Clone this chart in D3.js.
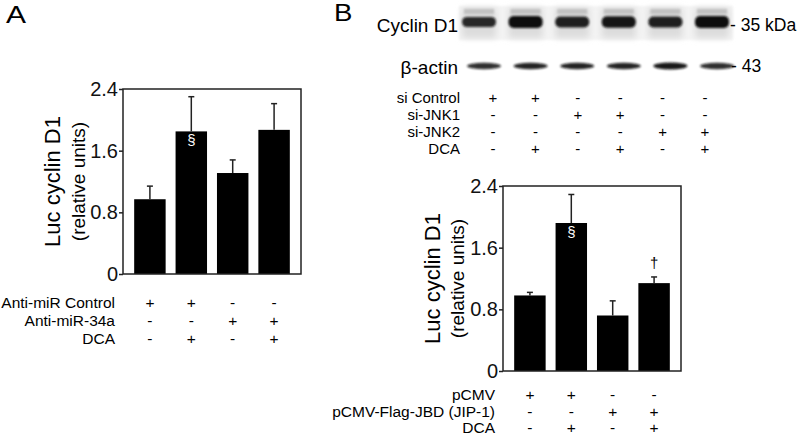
<!DOCTYPE html>
<html>
<head>
<meta charset="utf-8">
<script src="https://cdn.jsdelivr.net/npm/d3@7"></script>
<style>
  body { margin: 0; background: #fff; }
  svg { font-family: "Liberation Sans", Arial, sans-serif; display: block; }
</style>
</head>
<body>
<svg id="fig" width="800" height="436"></svg>
<script>
// bar values
var groups = ["1", "2", "3", "4"];
var valuesA = [0.97, 1.85, 1.31, 1.87];
var errorsA = [0.17, 0.45, 0.17, 0.34];
var valuesB = [0.98, 1.92, 0.72, 1.14];
var errorsB = [0.04, 0.37, 0.19, 0.08];
var marksA = ["", "§", "", ""];
var marksB = ["", "§", "", "†"];
var yTicks = [0, 0.8, 1.6, 2.4];

// treatment tables
var rowsA = ["Anti-miR Control", "Anti-miR-34a", "DCA"];
var signsA = ["++--", "--++", "-+-+"];
var rowsB = ["pCMV", "pCMV-Flag-JBD (JIP-1)", "DCA"];
var signsB = ["++--", "--++", "-+-+"];
var lanes = ["1", "2", "3", "4", "5", "6"];
var rowsBlot = ["si Control", "si-JNK1", "si-JNK2", "DCA"];
var signsBlot = ["++----", "--++--", "----++", "-+-+-+"];

// band densities (0-1)
var cyclinDensity = [0.7, 1.0, 0.8, 0.9, 0.8, 1.0];
var actinDensity = [0.85, 0.9, 0.9, 0.9, 0.95, 0.85];

var svg = d3.select("#fig");

var defs = svg.append("defs");
defs.append("filter").attr("id", "blur1").attr("x", "-20%").attr("y", "-50%")
    .attr("width", "140%").attr("height", "200%")
  .append("feGaussianBlur").attr("stdDeviation", 1.2);
defs.append("filter").attr("id", "blur3").attr("x", "-20%").attr("y", "-50%")
    .attr("width", "140%").attr("height", "200%")
  .append("feGaussianBlur").attr("stdDeviation", 3);

// panel letters
svg.append("text").attr("x", 6).attr("y", 23).attr("font-size", 24)
    .attr("transform", "translate(6,0) scale(1.25,1) translate(-6,0)").text("A");
svg.append("text").attr("x", 334).attr("y", 21).attr("font-size", 24)
    .attr("transform", "translate(334,0) scale(1.15,1) translate(-334,0)").text("B");

function barPanel(left, top, values, errors, marks, labelX1, labelX2) {
  var w = 178, h = 185;
  var g = svg.append("g");

  var x = d3.scaleBand().domain(groups)
      .range([left, left + w]).paddingInner(0.24).paddingOuter(0.27);
  var y = d3.scaleLinear().domain([0, 2.4]).range([top + h, top]);

  // bars
  g.selectAll(".bar").data(values).enter().append("rect")
      .attr("x", function(d, i) { return x(groups[i]); })
      .attr("y", function(d) { return y(d); })
      .attr("width", x.bandwidth())
      .attr("height", function(d) { return y(0) - y(d); })
      .attr("fill", "#000");

  // error bars, upward only
  var eb = g.selectAll(".err").data(values).enter().append("g");
  eb.append("line")
      .attr("x1", function(d, i) { return x(groups[i]) + x.bandwidth() / 2; })
      .attr("x2", function(d, i) { return x(groups[i]) + x.bandwidth() / 2; })
      .attr("y1", function(d) { return y(d); })
      .attr("y2", function(d, i) { return y(d + errors[i]); })
      .attr("stroke", "#222").attr("stroke-width", 1.5);
  eb.append("line")
      .attr("x1", function(d, i) { return x(groups[i]) + x.bandwidth() / 2 - 3; })
      .attr("x2", function(d, i) { return x(groups[i]) + x.bandwidth() / 2 + 3; })
      .attr("y1", function(d, i) { return y(d + errors[i]); })
      .attr("y2", function(d, i) { return y(d + errors[i]); })
      .attr("stroke", "#222").attr("stroke-width", 1.5);

  // significance marks
  g.selectAll(".mark").data(values).enter().append("text")
      .attr("x", function(d, i) { return x(groups[i]) + x.bandwidth() / 2; })
      .attr("y", function(d, i) {
        return marks[i] === "§" ? y(d) + 14 : y(d + errors[i]) - 9;
      })
      .attr("text-anchor", "middle")
      .attr("font-size", 15)
      .attr("fill", function(d, i) { return marks[i] === "§" ? "#fff" : "#000"; })
      .text(function(d, i) { return marks[i]; });

  // frame
  g.append("rect").attr("x", left).attr("y", top).attr("width", w).attr("height", h)
      .attr("fill", "none").attr("stroke", "#222").attr("stroke-width", 1.5);

  // y axis
  var ax = g.append("g").attr("transform", "translate(" + left + ",0)")
      .call(d3.axisLeft(y).tickValues(yTicks).tickSize(4).tickSizeOuter(0).tickPadding(1)
        .tickFormat(function(d) { return d === 0 ? "0" : d3.format(".1f")(d); }));
  ax.select(".domain").remove();
  ax.selectAll("line").attr("stroke", "#222").attr("stroke-width", 1.5);
  ax.selectAll("text").attr("font-size", 20).attr("fill", "#111")
      .attr("font-family", "Liberation Sans, Arial, sans-serif");

  var cy = top + h / 2;
  g.append("text").attr("transform", "translate(" + labelX1 + "," + cy + ") rotate(-90)")
      .attr("text-anchor", "middle").attr("dy", "0.35em")
      .attr("font-size", 22).text("Luc cyclin D1");
  g.append("text").attr("transform", "translate(" + labelX2 + "," + cy + ") rotate(-90)")
      .attr("text-anchor", "middle").attr("dy", "0.35em")
      .attr("font-size", 19).text("(relative units)");

  return x;
}

function signTable(rows, signs, labelRight, yFirst, rowStep, colX, fs) {
  var g = svg.append("g").attr("font-size", fs);
  rows.forEach(function(r, i) {
    var yy = yFirst + i * rowStep;
    g.append("text").attr("x", labelRight).attr("y", yy).attr("dy", "0.35em")
        .attr("text-anchor", "end").text(r);
    g.selectAll(null).data(signs[i].split("")).enter().append("text")
        .attr("x", function(d, j) { return colX(j); })
        .attr("y", yy).attr("dy", "0.35em")
        .attr("text-anchor", "middle")
        .text(function(d) { return d; });
  });
}

// panel A
var xA = barPanel(123, 89, valuesA, errorsA, marksA, 52, 78);
signTable(rowsA, signsA, 115, 303, 18,
    function(j) { return xA(groups[j]) + xA.bandwidth() / 2; }, 15.5);

// panel B bar chart
var xB = barPanel(503, 186, valuesB, errorsB, marksB, 432, 457);
signTable(rowsB, signsB, 495, 395, 16.5,
    function(j) { return xB(groups[j]) + xB.bandwidth() / 2; }, 15.5);

// panel B blot
var laneX = d3.scalePoint().domain(lanes).range([479, 712]);
var blotCols = d3.scalePoint().domain(lanes).range([493, 705]);
var dens = d3.scaleLinear().domain([0, 1]).range([0, 1]);

var blot = svg.append("g");
blot.append("rect").attr("x", 459).attr("y", 6).attr("width", 274).attr("height", 34)
    .attr("fill", "#f3f3f3").attr("filter", "url(#blur1)");
blot.selectAll(".smear").data(cyclinDensity).enter().append("rect")
    .attr("x", function(d, i) { return laneX(lanes[i]) - 17; })
    .attr("y", 8).attr("width", 34).attr("height", 30)
    .attr("fill", "#dcdcdc").attr("filter", "url(#blur3)");
blot.selectAll(".upper").data(cyclinDensity).enter().append("rect")
    .attr("x", function(d, i) { return laneX(lanes[i]) - 15; })
    .attr("y", 9).attr("width", 30).attr("height", 5)
    .attr("fill", "#c2c2c2").attr("filter", "url(#blur1)");
blot.selectAll(".cyc").data(cyclinDensity).enter().append("rect")
    .attr("x", function(d, i) { return laneX(lanes[i]) - 17; })
    .attr("y", function(d) { return 22 - 3 - 3 * dens(d); })
    .attr("width", 34)
    .attr("height", function(d) { return 6 + 6 * dens(d); })
    .attr("rx", 5)
    .attr("fill", "#111")
    .attr("opacity", function(d) { return 0.55 + 0.45 * dens(d); })
    .attr("filter", "url(#blur1)");
blot.selectAll(".act").data(actinDensity).enter().append("ellipse")
    .attr("cx", function(d, i) { return laneX(lanes[i]) + 5; })
    .attr("cy", 66)
    .attr("rx", 17)
    .attr("ry", function(d) { return 2 + 1.5 * dens(d); })
    .attr("fill", "#111")
    .attr("opacity", function(d) { return dens(d); })
    .attr("filter", "url(#blur1)");

svg.append("text").attr("x", 458).attr("y", 25).attr("dy", "0.35em")
    .attr("text-anchor", "end").attr("font-size", 19).text("Cyclin D1");
svg.append("text").attr("x", 458).attr("y", 67).attr("dy", "0.35em")
    .attr("text-anchor", "end").attr("font-size", 19).text("β-actin");
svg.append("text").attr("x", 730).attr("y", 25).attr("dy", "0.35em")
    .attr("font-size", 17.5).text("- 35 kDa");
svg.append("text").attr("x", 731).attr("y", 66).attr("dy", "0.35em")
    .attr("font-size", 17.5).text("- 43");

signTable(rowsBlot, signsBlot, 460, 98, 17,
    function(j) { return blotCols(lanes[j]); }, 15);
</script>
</body>
</html>
